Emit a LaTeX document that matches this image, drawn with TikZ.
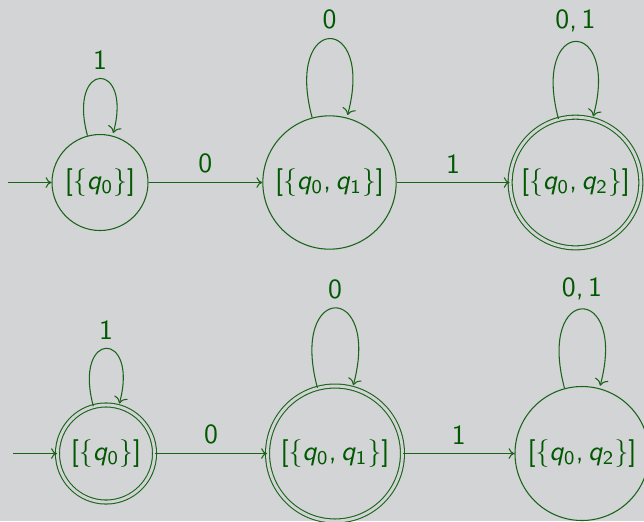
\documentclass[tikz,border=0pt]{standalone}
\usepackage{fontspec}
\usetikzlibrary{automata,arrows.meta}
\definecolor{bg}{RGB}{211,212,214}
\definecolor{dg}{RGB}{0,88,0}
\definecolor{lg}{RGB}{25,100,25}
\newcommand\qq[1]{\textit{q}\textsubscript{#1}}
\begin{document}
\begin{tikzpicture}[x=0.375pt,y=-0.375pt,
  font=\sffamily\fontsize{10.4}{12.5}\selectfont,
  st/.style={circle,draw=lg,text=dg,line width=0.4pt,inner sep=0pt},
  acc/.style={double=bg,double distance=1.1pt},
  tr/.style={-{To[length=2.2pt,width=4pt]},draw=lg,line width=0.4pt},
  lab/.style={text=dg}]
\fill[bg] (0,0) rectangle (644,521);
\useasboundingbox (0,0) rectangle (644,521);
% top row
\node[st,minimum size=36pt] (a) at (100,182.5) {[\{\qq0\}]};
\node[st,minimum size=50pt] (b) at (329.5,182.5) {[\{\qq0,\,\qq1\}]};
\node[st,acc,minimum size=49pt] (c) at (575.5,182.5) {[\{\qq0,\,\qq2\}]};
\coordinate (ia) at (8,182.5);
\draw[tr] (ia) -- (a);
\path[tr] (a) edge node[above,lab] {0} (b)
          (b) edge node[above,lab] {1} (c)
          (a) edge[loop above] node[above,lab] {1} ()
          (b) edge[loop above] node[above,lab] {0} ()
          (c) edge[loop above] node[above,lab] {0,\,1} ();
% bottom row
\node[st,acc,minimum size=36.4pt] (d) at (106,453.5) {[\{\qq0\}]};
\node[st,acc,minimum size=50.6pt] (e) at (335,453.5) {[\{\qq0,\,\qq1\}]};
\node[st,minimum size=50.25pt] (f) at (582,453.5) {[\{\qq0,\,\qq2\}]};
\coordinate (id) at (13,453.5);
\draw[tr] (id) -- (d);
\path[tr] (d) edge node[above,lab] {0} (e)
          (e) edge node[above,lab] {1} (f)
          (d) edge[loop above] node[above,lab] {1} ()
          (e) edge[loop above] node[above,lab] {0} ()
          (f) edge[loop above] node[above,lab] {0,\,1} ();
\end{tikzpicture}
\end{document}
